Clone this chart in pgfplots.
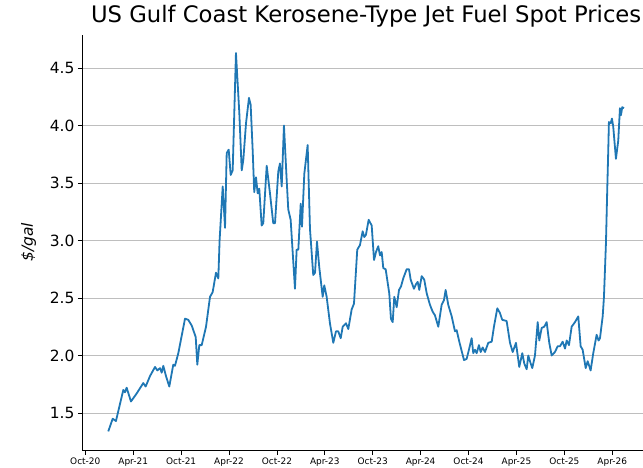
\documentclass[border=0pt]{standalone}
\usepackage{fontspec}
\setmainfont{DejaVu Sans}
\usepackage{pgfplots}
\pgfplotsset{compat=1.18}
\definecolor{mplblue}{HTML}{1F77B4}
\definecolor{gridgray}{RGB}{190,190,190}
\begin{document}
\begin{tikzpicture}
\begin{axis}[
    scale only axis,
    width=567.3bp, height=415bp,
    xmin=-0.35, xmax=70.7, ymin=1.178, ymax=4.787,
    axis x line*=bottom, axis y line*=left,
    axis line style={line width=1bp, -},
    xtick={0,6,...,66},
    xticklabels={Oct-20,Apr-21,Oct-21,Apr-22,Oct-22,Apr-23,Oct-23,Apr-24,Oct-24,Apr-25,Oct-25,Apr-26},
    ytick={1.5,2.0,...,4.5},
    yticklabel style={/pgf/number format/fixed, /pgf/number format/fixed zerofill, /pgf/number format/precision=1, font=\fontsize{15.5}{18}\selectfont},
    /pgf/number format/assume math mode=true,
    tick align=outside,
    major tick length=4.5bp,
    tick style={black, line width=0.8bp},
    xticklabel style={font=\fontsize{9}{10}\selectfont},
    ymajorgrids,
    grid style={gridgray, line width=0.8bp},
    title={US Gulf Coast Kerosene-Type Jet Fuel Spot Prices},
    title style={at={(0.5,1)}, anchor=base, yshift=7bp, font=\fontsize{22.8}{26}\selectfont},
    ylabel={\itshape \$/gal},
    every axis y label/.style={at={(axis description cs:0,0.5)}, xshift=-54bp, rotate=90, anchor=center, font=\fontsize{15.5}{18}\selectfont},
]
\addplot[mplblue, line width=1.8bp, line join=round] coordinates {
(2.88,1.34) (3.43,1.45) (3.84,1.43) (4.76,1.70) (4.97,1.68) (5.18,1.72) (5.72,1.60)
(6.44,1.67) (7.26,1.76) (7.56,1.73) (8.10,1.82) (8.73,1.90) (9.02,1.87) (9.36,1.89)
(9.57,1.85) (9.77,1.91) (10.11,1.82) (10.52,1.73) (11.02,1.92) (11.23,1.91) (11.65,2.02)
(12.49,2.32) (12.90,2.31) (13.33,2.26) (13.83,2.16) (14.03,1.92) (14.28,2.09) (14.58,2.09)
(15.12,2.25) (15.62,2.51) (15.95,2.55) (16.37,2.72) (16.66,2.67) (16.82,3.00) (17.21,3.47)
(17.50,3.11) (17.71,3.76) (17.96,3.79) (18.21,3.57) (18.46,3.61) (18.87,4.63) (19.29,4.11)
(19.59,3.61) (19.79,3.70) (20.13,4.02) (20.50,4.24) (20.71,4.18) (20.96,3.79) (21.16,3.42)
(21.38,3.55) (21.59,3.41) (21.79,3.45) (22.09,3.13) (22.29,3.15) (22.72,3.65) (23.13,3.41)
(23.54,3.15) (23.76,3.15) (24.17,3.60) (24.38,3.67) (24.60,3.47) (24.88,4.00) (25.22,3.53)
(25.42,3.27) (25.72,3.18) (26.26,2.58) (26.47,2.92) (26.68,2.92) (26.98,3.32) (27.14,3.12)
(27.43,3.58) (27.85,3.83) (28.14,3.10) (28.55,2.70) (28.77,2.72) (29.02,2.99) (29.30,2.77)
(29.73,2.51) (29.93,2.61) (30.23,2.51) (30.64,2.28) (31.06,2.11) (31.40,2.21) (31.68,2.21)
(31.99,2.15) (32.24,2.25) (32.65,2.28) (32.94,2.23) (33.36,2.40) (33.65,2.45) (34.06,2.92)
(34.40,2.96) (34.74,3.08) (34.94,3.03) (35.15,3.05) (35.49,3.18) (35.87,3.13) (36.16,2.83)
(36.41,2.90) (36.69,2.95) (36.91,2.87) (37.12,2.90) (37.32,2.76) (37.62,2.75) (38.07,2.54)
(38.28,2.32) (38.50,2.29) (38.70,2.51) (39.00,2.42) (39.29,2.57) (39.54,2.60) (39.82,2.67)
(40.25,2.75) (40.54,2.75) (40.75,2.66) (41.16,2.58) (41.42,2.62) (41.63,2.64) (41.83,2.57)
(42.13,2.69) (42.45,2.66) (42.76,2.54) (43.17,2.44) (43.51,2.38) (43.79,2.35) (44.21,2.25)
(44.63,2.44) (44.92,2.48) (45.13,2.57) (45.46,2.44) (45.89,2.34) (46.30,2.21) (46.51,2.22)
(46.84,2.12) (47.43,1.96) (47.76,1.97) (48.05,2.05) (48.39,2.15) (48.59,2.02) (48.80,2.05)
(49.02,2.02) (49.30,2.09) (49.52,2.03) (49.77,2.07) (50.06,2.03) (50.47,2.11) (50.90,2.12)
(51.18,2.25) (51.60,2.41) (51.93,2.37) (52.22,2.31) (52.77,2.30) (53.19,2.11) (53.53,2.03)
(53.94,2.11) (54.35,1.90) (54.73,2.02) (54.98,1.93) (55.28,1.88) (55.48,2.00) (55.69,1.95)
(55.98,1.89) (56.32,2.00) (56.66,2.29) (56.86,2.13) (57.16,2.24) (57.48,2.25) (57.78,2.29)
(58.11,2.11) (58.41,2.00) (58.82,2.03) (59.16,2.08) (59.45,2.08) (59.79,2.12) (60.08,2.06)
(60.29,2.13) (60.58,2.09) (60.91,2.25) (61.33,2.29) (61.74,2.34) (62.04,2.08) (62.29,2.05)
(62.67,1.89) (62.92,1.95) (63.29,1.87) (63.62,2.02) (64.04,2.18) (64.29,2.13) (64.46,2.15)
(64.80,2.34) (64.96,2.51) (65.21,2.98) (65.37,3.44) (65.50,3.79) (65.58,4.03) (65.80,4.02)
(65.96,4.06) (66.12,3.99) (66.46,3.71) (66.75,3.87) (66.96,4.15) (67.09,4.09) (67.25,4.16)
(67.46,4.15)
};
\end{axis}
\pgfresetboundingbox
\path[use as bounding box] (-82.5bp,-18bp) rectangle (560.5bp,450bp);
\end{tikzpicture}
\end{document}
